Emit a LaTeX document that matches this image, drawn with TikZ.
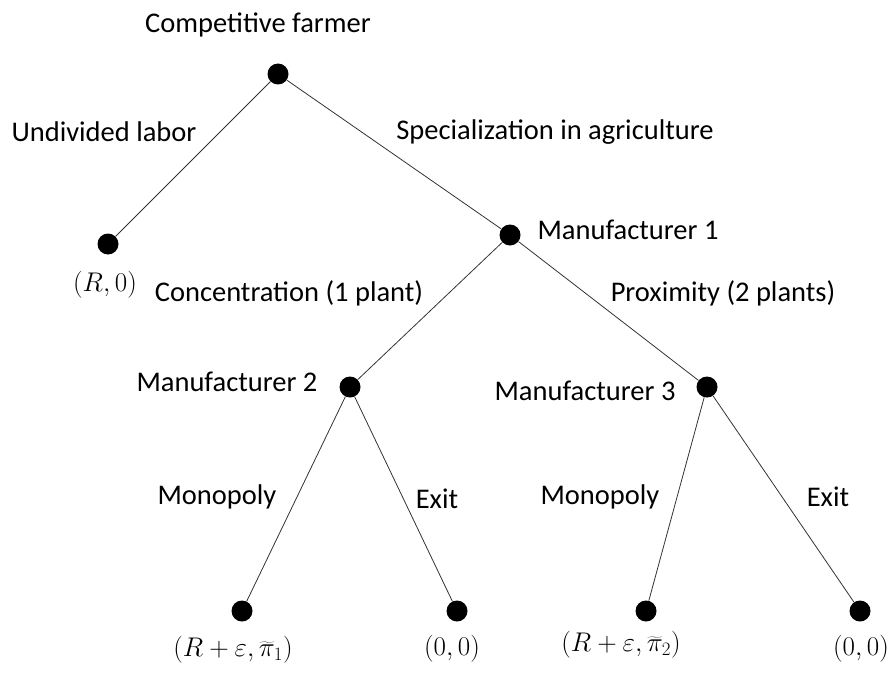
\documentclass[tikz,border=0pt]{standalone}
\usepackage{fix-cm}
\usepackage{fontspec}
\setmainfont{Carlito}
\tikzset{
  dot/.style={circle,fill=black,inner sep=0pt,minimum size=21pt},
  branch/.style={draw=black!80,line width=0.8pt},
  lbl/.style={inner sep=0pt,font=\fontsize{28.5}{34}\selectfont},
  pay/.style={inner sep=0pt,font=\fontsize{27}{32}\selectfont}
}

\begin{document}
\begin{tikzpicture}[x=1pt,y=-1pt]
    \useasboundingbox (0,0) rectangle (893,674);
    % Decision nodes
    \node[dot] (farmer) at (278,74) {};
    \node[dot] (m1) at (510,235) {};
    \node[dot] (m2) at (350,387) {};
    \node[dot] (m3) at (707,387) {};
    % Terminal nodes
    \node[dot] (undiv) at (108,244) {};
    \node[dot] (mono2) at (242,611) {};
    \node[dot] (exit2) at (457,611) {};
    \node[dot] (mono3) at (646,611) {};
    \node[dot] (exit3) at (860,611) {};
    % Branches
    \draw[branch] (farmer) -- (undiv);
    \draw[branch] (farmer) -- (m1);
    \draw[branch] (m1) -- (m2);
    \draw[branch] (m1) -- (m3);
    \draw[branch] (m2) -- (mono2);
    \draw[branch] (m2) -- (exit2);
    \draw[branch] (m3) -- (mono3);
    \draw[branch] (m3) -- (exit3);
    % Players
    \node[lbl] (farmerlbl) at (258,25) {Competitive farmer};
    \node[lbl] (m1lbl) at (628,230) {Manufacturer 1};
    \node[lbl] (m2lbl) at (227,382) {Manufacturer 2};
    \node[lbl] (m3lbl) at (585,391) {Manufacturer 3};
    % Actions
    \node[lbl] (undivlbl) at (104,132) {Undivided labor};
    \node[lbl] (speclbl) at (555,132) {Specialization in agriculture};
    \node[lbl] (conclbl) at (289,293) {Concentration (1 plant)};
    \node[lbl] (proxlbl) at (723,293) {Proximity (2 plants)};
    \node[lbl] (mono2lbl) at (217,497) {Monopoly};
    \node[lbl] (exit2lbl) at (437,499) {Exit};
    \node[lbl] (mono3lbl) at (600,497) {Monopoly};
    \node[lbl] (exit3lbl) at (828,497) {Exit};
    % Payoffs
    \node[pay] (undivpay) at (105,285) {$\bigl(R,0\bigr)$};
    \node[pay] (mono2pay) at (233,650) {$\left(R+\varepsilon,\widetilde{\pi}_1\right)$};
    \node[pay] (exit2pay) at (452,649) {$\bigl(0,0\bigr)$};
    \node[pay] (mono3pay) at (621,645) {$\left(R+\varepsilon,\widetilde{\pi}_2\right)$};
    \node[pay] (exit3pay) at (861,649) {$\bigl(0,0\bigr)$};
\end{tikzpicture}
\end{document}
